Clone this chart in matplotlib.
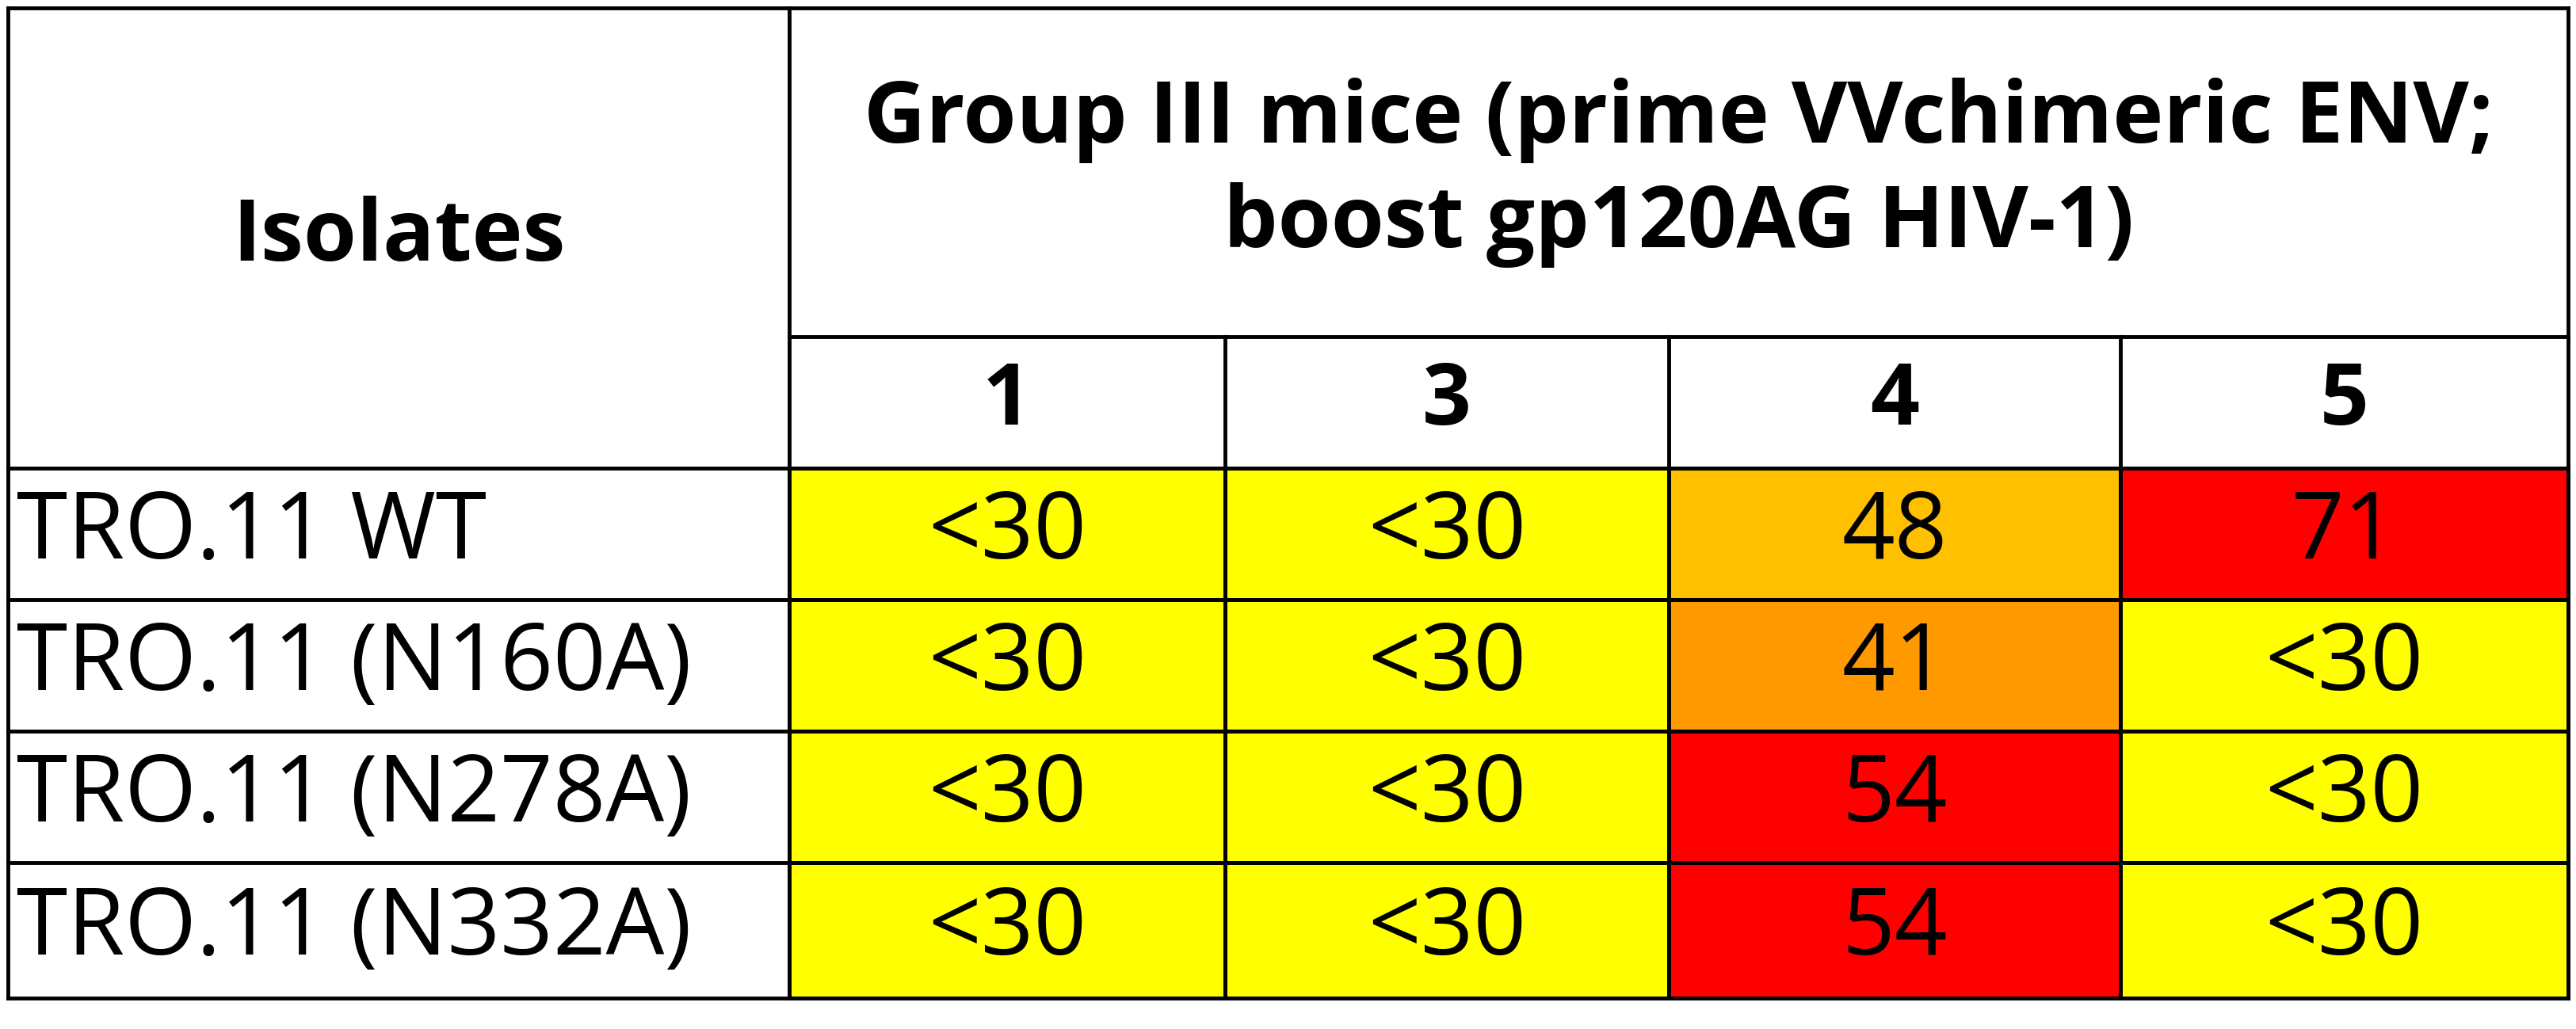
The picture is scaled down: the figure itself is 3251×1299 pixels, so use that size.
import matplotlib
matplotlib.use("Agg")
import matplotlib.pyplot as plt
from matplotlib.patches import Rectangle

# table content
isolates = ["TRO.11 WT", "TRO.11 (N160A)", "TRO.11 (N278A)", "TRO.11 (N332A)"]
mice = ["1", "3", "4", "5"]
titers = [
    ["<30", "<30", "48", "71"],
    ["<30", "<30", "41", "<30"],
    ["<30", "<30", "54", "<30"],
    ["<30", "<30", "54", "<30"],
]
group_title = "Group III mice (prime VVchimeric ENV;\nboost gp120AG HIV-1)"
first_header = "Isolates"


def cell_color(v):
    if v.startswith("<"):
        return "#FFFF00"
    n = int(v)
    if n >= 50:
        return "#FF0000"
    if n >= 45:
        return "#FFC000"
    return "#FF9900"


plt.rcParams['font.family'] = ['Open Sans', 'DejaVu Sans']
fig = plt.figure(figsize=(32.51, 12.99), dpi=100)
ax = fig.add_axes([0, 0, 1, 1])
ax.set_xlim(0, 1567)
ax.set_ylim(626, 0)
ax.axis("off")

col_x = [5, 480, 745, 1015, 1290, 1562]
row_y = [5, 205, 285, 365, 445, 525, 607]
lw = 3.5
fs = 84
hfs = 78

# data cells
for i, row in enumerate(titers):
    y0, y1 = row_y[i + 2], row_y[i + 3]
    ax.text(col_x[0] + 5, (y0 + y1) / 2, isolates[i], ha="left", va="center", fontsize=fs)
    for j, v in enumerate(row):
        x0, x1 = col_x[j + 1], col_x[j + 2]
        ax.add_patch(Rectangle((x0, y0), x1 - x0, y1 - y0, facecolor=cell_color(v),
                               edgecolor="black", lw=lw))
        ax.text((x0 + x1) / 2, (y0 + y1) / 2, v, ha="center", va="center", fontsize=fs)

# headers
ax.text((col_x[0] + col_x[1]) / 2, (row_y[0] + row_y[2]) / 2, first_header,
        ha="center", va="center", fontsize=hfs, fontweight="bold")
ax.text((col_x[1] + col_x[5]) / 2, (row_y[0] + row_y[1]) / 2, group_title,
        ha="center", va="center", fontsize=hfs, fontweight="bold", linespacing=1.3)
for j, m in enumerate(mice):
    ax.text((col_x[j + 1] + col_x[j + 2]) / 2, (row_y[1] + row_y[2]) / 2, m,
            ha="center", va="center", fontsize=hfs, fontweight="bold")

# grid lines
for y in row_y:
    x_start = col_x[1] if y == row_y[1] else col_x[0]
    ax.plot([x_start, col_x[-1]], [y, y], color="black", lw=lw)
ax.plot([col_x[0], col_x[0]], [row_y[0], row_y[-1]], color="black", lw=lw)
ax.plot([col_x[1], col_x[1]], [row_y[0], row_y[-1]], color="black", lw=lw)
ax.plot([col_x[-1], col_x[-1]], [row_y[0], row_y[-1]], color="black", lw=lw)
for x in col_x[2:-1]:
    ax.plot([x, x], [row_y[1], row_y[-1]], color="black", lw=lw)

fig.savefig("out.png", dpi=100, facecolor="white")
